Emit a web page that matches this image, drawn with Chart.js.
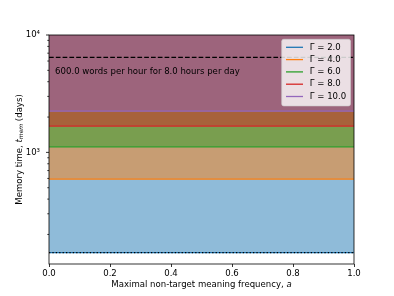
<!DOCTYPE html>
<html>
<head>
<meta charset="utf-8">
<script src="https://cdn.jsdelivr.net/npm/chart.js@4.4.1/dist/chart.umd.min.js"></script>
<style>
  html, body { margin: 0; padding: 0; background: #fff; }
  #wrap { width: 394px; height: 296px; }
</style>
</head>
<body>
<div id="wrap"><canvas id="memChart" width="394" height="296"></canvas></div>
<script>
// values
const aRange = [0.0, 1.0];
const gammas = [2.0, 4.0, 6.0, 8.0, 10.0];
const memTimes = [140, 592, 1116, 1676, 2249];
const lineColors = ['#1f77b4', '#ff7f0e', '#2ca02c', '#d62728', '#9467bd'];
const fillColors = ['rgba(31,119,180,0.5)', 'rgba(255,127,14,0.5)', 'rgba(44,160,44,0.5)', 'rgba(214,39,40,0.5)', 'rgba(148,103,189,0.5)'];
const wordLimit = 6460;   // dashed line
const lowerLimit = 140;   // dotted line
const xTicks = [0.0, 0.2, 0.4, 0.6, 0.8, 1.0];
const yMajorTicks = [1000, 10000];
const yMinorTicks = [200, 300, 400, 500, 600, 700, 800, 900, 2000, 3000, 4000, 5000, 6000, 7000, 8000, 9000];
const yTickLabels = { 1000: '10\u00b3', 10000: '10\u2074' };
const noteText = '600.0 words per hour for 8.0 hours per day';
const notePos = { a: 0.02, t: 4850 };

const FONT = "'DejaVu Sans', sans-serif";
const FS = 8.55;

const flat = v => aRange.map(a => ({ x: a, y: v }));

const datasets = gammas.map((g, i) => ({
  label: '\u0393 = ' + g.toFixed(1),
  data: flat(memTimes[i]),
  borderColor: lineColors[i],
  backgroundColor: fillColors[i],
  borderWidth: 1.3,
  pointRadius: 0,
  fill: 'end',
  order: gammas.length - i
}));

datasets.push({
  label: 'limit',
  data: flat(wordLimit),
  borderColor: '#000',
  borderWidth: 1.3,
  borderDash: [4.7, 2.1],
  pointRadius: 0,
  fill: false,
  order: 0
});
datasets.push({
  label: 'lower',
  data: flat(lowerLimit),
  borderColor: '#000',
  borderWidth: 1.3,
  borderDash: [1.3, 2.1],
  pointRadius: 0,
  fill: false,
  order: 0
});

const extras = {
  id: 'extras',
  afterDraw(chart) {
    const ctx = chart.ctx;
    const { left, right, top, bottom } = chart.chartArea;
    const xs = chart.scales.x, ys = chart.scales.y;
    ctx.save();

    // spines
    ctx.strokeStyle = '#000';
    ctx.lineWidth = 0.8;
    ctx.strokeRect(left, top, right - left, bottom - top);

    // y tick marks
    yMajorTicks.concat(yMinorTicks).forEach(v => {
      const y = ys.getPixelForValue(v);
      const len = yMajorTicks.includes(v) ? 3 : 1.7;
      ctx.beginPath();
      ctx.moveTo(left, y);
      ctx.lineTo(left - len, y);
      ctx.stroke();
    });

    // annotation
    ctx.fillStyle = '#000';
    ctx.font = FS + 'px ' + FONT;
    ctx.textBaseline = 'middle';
    ctx.textAlign = 'left';
    ctx.fillText(noteText, xs.getPixelForValue(notePos.a), ys.getPixelForValue(notePos.t));

    // x title
    const xPart1 = 'Maximal non-target meaning frequency, ';
    ctx.font = FS + 'px ' + FONT;
    const w1 = ctx.measureText(xPart1).width;
    ctx.font = 'italic ' + FS + 'px ' + FONT;
    const w2 = ctx.measureText('a').width;
    let x0 = (left + right) / 2 - (w1 + w2) / 2;
    ctx.font = FS + 'px ' + FONT;
    ctx.fillText(xPart1, x0, 285);
    ctx.font = 'italic ' + FS + 'px ' + FONT;
    ctx.fillText('a', x0 + w1, 285);

    // y title
    ctx.save();
    ctx.translate(20, (top + bottom) / 2);
    ctx.rotate(-Math.PI / 2);
    const parts = [
      { t: 'Memory time, ', f: FS + 'px ' + FONT, dy: 0 },
      { t: 't', f: 'italic ' + FS + 'px ' + FONT, dy: 0 },
      { t: 'mem', f: 'italic ' + (FS * 0.7) + 'px ' + FONT, dy: 1.6 },
      { t: ' (days)', f: FS + 'px ' + FONT, dy: 0 }
    ];
    let tw = 0;
    parts.forEach(p => { ctx.font = p.f; p.w = ctx.measureText(p.t).width; tw += p.w; });
    let px = -tw / 2;
    parts.forEach(p => { ctx.font = p.f; ctx.fillText(p.t, px, p.dy); px += p.w; });
    ctx.restore();

    // legend
    ctx.font = FS + 'px ' + FONT;
    const labels = gammas.map((g, i) => datasets[i].label);
    const textW = Math.max(...labels.map(l => ctx.measureText(l).width));
    const pad = 4.3, handle = 17, gap = 6.8, rowH = 12.3;
    const boxW = pad + handle + gap + textW + pad;
    const boxH = pad * 2 + rowH * labels.length - 3.5;
    const bx = right - 3.5 - boxW, by = top + 4.3;
    ctx.beginPath();
    ctx.roundRect(bx, by, boxW, boxH, 2);
    ctx.fillStyle = 'rgba(255,255,255,0.8)';
    ctx.fill();
    ctx.strokeStyle = 'rgba(204,204,204,0.8)';
    ctx.lineWidth = 0.8;
    ctx.stroke();
    labels.forEach((l, i) => {
      const cy = by + 8 + i * rowH;
      ctx.strokeStyle = lineColors[i];
      ctx.lineWidth = 1.3;
      ctx.beginPath();
      ctx.moveTo(bx + pad, cy);
      ctx.lineTo(bx + pad + handle, cy);
      ctx.stroke();
      ctx.fillStyle = '#000';
      ctx.fillText(l, bx + pad + handle + gap, cy);
    });

    ctx.restore();
  }
};

new Chart(document.getElementById('memChart'), {
  type: 'line',
  data: { datasets },
  options: {
    responsive: false,
    animation: false,
    devicePixelRatio: 1,
    layout: { padding: { left: 0, top: 35, right: 40, bottom: 0 } },
    plugins: { legend: { display: false }, tooltip: { enabled: false } },
    scales: {
      x: {
        type: 'linear',
        min: 0,
        max: 1,
        afterBuildTicks: s => { s.ticks = xTicks.map(v => ({ value: v })); },
        afterFit: s => { s.height = 32; },
        ticks: {
          callback: v => Number(v).toFixed(1),
          color: '#000',
          font: { family: FONT, size: FS },
          padding: 2,
          maxRotation: 0,
          autoSkip: false
        },
        grid: { display: true, drawOnChartArea: false, tickLength: 3, color: '#000', lineWidth: 0.8 },
        border: { display: false }
      },
      y: {
        type: 'logarithmic',
        min: 112,
        max: 10000,
        afterBuildTicks: s => { s.ticks = yMinorTicks.concat(yMajorTicks).sort((a, b) => a - b).map(v => ({ value: v })); },
        afterFit: s => { s.width = 49; },
        ticks: {
          callback: v => yTickLabels[v] || '',
          color: '#000',
          font: { family: FONT, size: FS },
          padding: 9,
          autoSkip: false
        },
        grid: { display: false, drawTicks: false, tickLength: 0 },
        border: { display: false }
      }
    }
  },
  plugins: [extras]
});
</script>
</body>
</html>
